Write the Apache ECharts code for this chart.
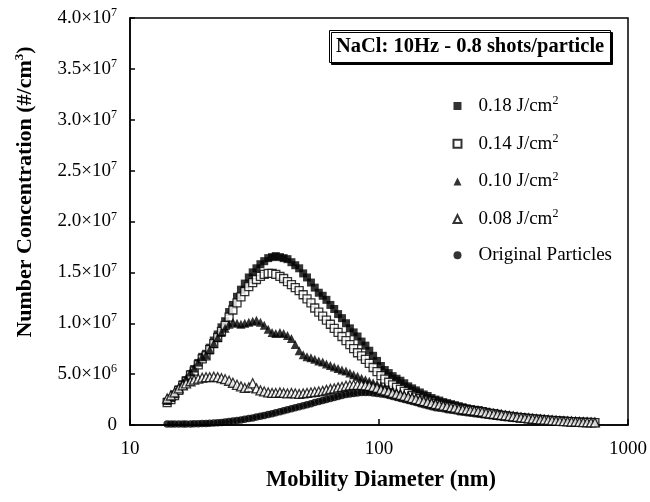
<!DOCTYPE html>
<html>
<head>
<meta charset="utf-8">
<script src="https://cdn.jsdelivr.net/npm/echarts@6/dist/echarts.min.js"></script>
<style>
  html, body { margin: 0; padding: 0; background: #fff; }
  #chart { width: 650px; height: 502px; }
</style>
</head>
<body>
<div id="chart"></div>
<script>
// SMPS channel mid-point diameters (nm), 64 channels per decade
const diameters = [
  14.1, 14.6, 15.1, 15.7, 16.3, 16.8, 17.5, 18.1, 18.8, 19.5,
  20.2, 20.9, 21.7, 22.5, 23.3, 24.1, 25.0, 25.9, 26.9, 27.9,
  28.9, 30.0, 31.1, 32.2, 33.4, 34.6, 35.9, 37.2, 38.5, 40.0,
  41.4, 42.9, 44.5, 46.1, 47.8, 49.6, 51.4, 53.3, 55.2, 57.3,
  59.4, 61.5, 63.8, 66.1, 68.5, 71.0, 73.7, 76.4, 79.1, 82.0,
  85.1, 88.2, 91.4, 94.7, 98.2, 101.8, 105.5, 109.4, 113.4, 117.6,
  121.9, 126.3, 131.0, 135.8, 140.7, 145.9, 151.2, 156.8, 162.5, 168.5,
  174.7, 181.1, 187.7, 194.6, 201.7, 209.1, 216.7, 224.7, 232.9, 241.4,
  250.3, 259.5, 269.0, 278.8, 289.0, 299.6, 310.6, 322.0, 333.8, 346.0,
  358.7, 371.8, 385.4, 399.5, 414.2, 429.4, 445.1, 461.4, 478.3, 495.8,
  514.0, 532.8, 552.3, 572.5, 593.5, 615.3, 637.8, 661.2, 685.4, 710.5,
  736.5
];

// Number concentrations, in units of 10^6 #/cm3
const conc018 = [
  2.3, 2.6, 3.0, 3.5, 4.0, 4.4, 5.0, 5.5, 6.1, 6.7,
  7.0, 7.6, 8.3, 8.9, 9.6, 10.2, 11.1, 11.8, 12.6, 13.3,
  13.9, 14.5, 15.0, 15.4, 15.8, 16.1, 16.4, 16.5, 16.6, 16.5,
  16.4, 16.3, 16.0, 15.7, 15.4, 14.9, 14.5, 14.0, 13.5, 13.0,
  12.7, 12.3, 11.8, 11.4, 10.9, 10.5, 10.0, 9.5, 9.1, 8.7,
  8.2, 7.8, 7.3, 6.8, 6.3, 5.8, 5.4, 5.1, 4.8, 4.55,
  4.35, 4.1, 3.8, 3.6, 3.4, 3.2, 3.0, 2.85, 2.65, 2.5,
  2.4, 2.25, 2.15, 2.05, 1.95, 1.85, 1.75, 1.65, 1.55, 1.5,
  1.45, 1.35, 1.3, 1.2, 1.15, 1.1, 1.0, 0.95, 0.9, 0.85,
  0.8, 0.75, 0.7, 0.66, 0.62, 0.58, 0.55, 0.52, 0.49, 0.46,
  0.43, 0.41, 0.39, 0.36, 0.34, 0.32, 0.3, 0.28, 0.26, 0.25,
  0.24
];
const conc014 = [
  2.2, 2.5, 2.9, 3.4, 3.9, 4.3, 4.9, 5.3, 5.9, 6.5,
  6.8, 7.4, 8.0, 8.6, 9.2, 9.8, 10.6, 11.3, 12.0, 12.6,
  13.1, 13.6, 14.0, 14.3, 14.6, 14.8, 14.9, 14.9, 14.8, 14.6,
  14.4, 14.1, 13.8, 13.5, 13.2, 12.8, 12.4, 12.0, 11.5, 11.1,
  10.7, 10.3, 9.9, 9.5, 9.1, 8.7, 8.3, 7.9, 7.5, 7.1,
  6.8, 6.45, 6.05, 5.65, 5.25, 4.85, 4.5, 4.2, 3.95, 3.7,
  3.5, 3.3, 3.1, 2.9, 2.75, 2.6, 2.45, 2.35, 2.25, 2.1,
  2.0, 1.9, 1.8, 1.75, 1.7, 1.6, 1.55, 1.5, 1.45, 1.4,
  1.35, 1.3, 1.2, 1.15, 1.1, 1.0, 0.95, 0.9, 0.85, 0.8,
  0.75, 0.72, 0.68, 0.64, 0.6, 0.57, 0.54, 0.5, 0.47, 0.44,
  0.42, 0.4, 0.37, 0.35, 0.33, 0.31, 0.29, 0.27, 0.26, 0.25,
  0.24
];
const conc010 = [
  2.4, 2.7, 3.1, 3.7, 4.2, 4.6, 5.2, 5.6, 6.2, 6.7,
  6.9, 7.4, 8.0, 8.6, 9.1, 9.5, 9.9, 10.1, 10.0, 9.9,
  10.0, 10.1, 10.2, 10.3, 10.1, 9.8, 9.4, 9.1, 9.0, 9.1,
  9.0, 8.8, 8.5, 7.9, 7.3, 6.9, 6.7, 6.6, 6.45, 6.3,
  6.2, 6.0, 5.85, 5.7, 5.55, 5.4, 5.3, 5.1, 4.95, 4.8,
  4.6, 4.45, 4.3, 4.15, 4.0, 3.85, 3.7, 3.55, 3.4, 3.25,
  3.15, 3.0, 2.9, 2.8, 2.7, 2.6, 2.5, 2.4, 2.3, 2.2,
  2.1, 2.0, 1.95, 1.85, 1.8, 1.7, 1.65, 1.55, 1.5, 1.45,
  1.4, 1.3, 1.25, 1.2, 1.1, 1.05, 1.0, 0.95, 0.9, 0.85,
  0.8, 0.75, 0.7, 0.66, 0.62, 0.58, 0.55, 0.52, 0.49, 0.46,
  0.43, 0.41, 0.38, 0.36, 0.34, 0.32, 0.3, 0.28, 0.27, 0.26,
  0.25
];
const conc008 = [
  2.6, 2.9, 3.2, 3.6, 3.9, 4.1, 4.3, 4.45, 4.55, 4.65,
  4.7, 4.7, 4.75, 4.7, 4.6, 4.5, 4.35, 4.15, 3.95, 3.8,
  3.65, 3.7, 4.1, 3.6, 3.4, 3.3, 3.2, 3.15, 3.15, 3.2,
  3.15, 3.1, 3.15, 3.1, 3.05, 3.1, 3.15, 3.2, 3.25, 3.3,
  3.35, 3.45, 3.55, 3.6, 3.7, 3.75, 3.85, 3.9, 3.95, 3.95,
  3.95, 3.9, 3.85, 3.75, 3.65, 3.5, 3.4, 3.3, 3.15, 3.05,
  2.95, 2.85, 2.75, 2.65, 2.55, 2.45, 2.35, 2.25, 2.15, 2.05,
  2.0, 1.9, 1.85, 1.75, 1.7, 1.6, 1.55, 1.5, 1.45, 1.4,
  1.35, 1.3, 1.2, 1.15, 1.1, 1.05, 1.0, 0.95, 0.9, 0.85,
  0.8, 0.75, 0.7, 0.66, 0.62, 0.58, 0.55, 0.52, 0.49, 0.46,
  0.43, 0.4, 0.38, 0.36, 0.34, 0.32, 0.3, 0.28, 0.27, 0.26,
  0.25
];
const concOriginal = [
  0.1, 0.1, 0.1, 0.1, 0.1, 0.1, 0.1, 0.12, 0.12, 0.14,
  0.15, 0.17, 0.2, 0.22, 0.25, 0.3, 0.35, 0.4, 0.45, 0.5,
  0.57, 0.63, 0.7, 0.78, 0.86, 0.94, 1.02, 1.1, 1.2, 1.3,
  1.4, 1.5, 1.6, 1.7, 1.8, 1.9, 2.0, 2.1, 2.2, 2.3,
  2.4, 2.5, 2.6, 2.7, 2.8, 2.9, 3.0, 3.05, 3.1, 3.15,
  3.2, 3.2, 3.2, 3.15, 3.1, 3.05, 3.0, 2.9, 2.8, 2.7,
  2.6, 2.5, 2.4, 2.3, 2.2, 2.1, 2.0, 1.9, 1.8, 1.7,
  1.65, 1.6, 1.5, 1.45, 1.4, 1.3, 1.25, 1.2, 1.15, 1.1,
  1.05, 1.0, 0.95, 0.9, 0.85, 0.8, 0.75, 0.72, 0.68, 0.64,
  0.6, 0.57, 0.54, 0.5, 0.47, 0.44, 0.42, 0.4, 0.37, 0.35,
  0.33, 0.31, 0.29, 0.27, 0.25, 0.24, 0.22, 0.21, 0.2, 0.19,
  0.18
];

const UNIT = 1e6;
const seriesNames = ['0.18 J/cm2', '0.14 J/cm2', '0.10 J/cm2', '0.08 J/cm2', 'Original Particles'];
const titleText = 'NaCl: 10Hz - 0.8 shots/particle';
const xTitle = 'Mobility Diameter (nm)';
const yTitle = 'Number Concentration (#/cm';

const FONT = '"Liberation Serif", "Times New Roman", serif';

function pairs(values) {
  return diameters.map((d, i) => [d, values[i] * UNIT]);
}

function yLabel(v) {
  if (v === 0) return '{b|0}';
  const e = Math.floor(Math.log10(v) + 1e-9);
  const m = (v / Math.pow(10, e)).toFixed(1);
  return '{b|' + m + '×10}{s|' + e + '}';
}

function legendLabel(name) {
  if (name.endsWith('cm2')) {
    return '{g| }{b|' + name.slice(0, -1) + '}{s|2}';
  }
  return '{g| }{b|' + name + '}';
}

const supRich = {
  b: { fontFamily: FONT, fontSize: 19, color: '#000', lineHeight: 22 },
  s: { fontFamily: FONT, fontSize: 12, color: '#000', lineHeight: 12, verticalAlign: 'top' },
  g: { width: 12, lineHeight: 22 }
};

const hollow = { color: '#fff', borderColor: '#000', borderWidth: 1.3 };
const solid = { color: '#000' };

const chart = echarts.init(document.getElementById('chart'), null, { renderer: 'canvas' });

chart.setOption({
  animation: false,
  backgroundColor: '#fff',
  title: {
    text: titleText,
    left: 329,
    top: 30,
    padding: [5, 7, 5, 7],
    backgroundColor: '#fff',
    borderColor: '#000',
    borderWidth: 1,
    shadowColor: '#000',
    shadowOffsetX: 2,
    shadowOffsetY: 2,
    shadowBlur: 0,
    textStyle: { fontFamily: FONT, fontWeight: 'bold', fontSize: 20.5, color: '#000', lineHeight: 23 }
  },
  grid: {
    left: 130, right: 21, top: 18, bottom: 77,
    show: true, borderColor: '#000', borderWidth: 1.5, backgroundColor: 'transparent'
  },
  legend: {
    orient: 'vertical',
    left: 452.5,
    top: 95,
    padding: 0,
    itemWidth: 8,
    itemHeight: 8,
    itemGap: 17.2,
    data: seriesNames,
    formatter: legendLabel,
    textStyle: { rich: supRich },
    selectedMode: false
  },
  xAxis: {
    type: 'log',
    logBase: 10,
    min: 10,
    max: 1000,
    axisLine: { lineStyle: { color: '#000', width: 1.5 } },
    axisTick: { inside: true, length: 6, lineStyle: { color: '#000', width: 1.5 } },
    minorTick: { show: false },
    splitLine: { show: false },
    axisLabel: { fontFamily: FONT, fontSize: 19, color: '#000', margin: 15, formatter: v => String(Math.round(v)) }
  },
  yAxis: {
    type: 'value',
    min: 0,
    max: 4e7,
    interval: 5e6,
    axisLine: { show: true, lineStyle: { color: '#000', width: 1.5 } },
    axisTick: { show: true, inside: true, length: 5, lineStyle: { color: '#000', width: 1.5 } },
    splitLine: { show: false },
    axisLabel: { margin: 13, formatter: yLabel, rich: supRich }
  },
  graphic: [
    {
      type: 'text',
      x: 381,
      y: 480,
      style: {
        text: xTitle, fontFamily: FONT, fontWeight: 'bold', fontSize: 22.5, fill: '#000',
        align: 'center', verticalAlign: 'middle'
      }
    },
    {
      type: 'text',
      x: 25,
      y: 192,
      rotation: Math.PI / 2,
      style: {
        text: '{t|' + yTitle + '}{s|3}{t|)}',
        align: 'center',
        verticalAlign: 'middle',
        rich: {
          t: { fontFamily: FONT, fontWeight: 'bold', fontSize: 22, fill: '#000', lineHeight: 24 },
          s: { fontFamily: FONT, fontWeight: 'bold', fontSize: 13, fill: '#000', lineHeight: 13, verticalAlign: 'top' }
        }
      }
    }
  ],
  series: [
    {
      name: seriesNames[4], type: 'scatter', symbol: 'circle', symbolSize: 7.5,
      itemStyle: solid, data: pairs(concOriginal), z: 2
    },
    {
      name: seriesNames[0], type: 'scatter', symbol: 'rect', symbolSize: 8,
      itemStyle: solid, data: pairs(conc018), z: 3
    },
    {
      name: seriesNames[1], type: 'scatter', symbol: 'rect', symbolSize: 8,
      itemStyle: hollow, data: pairs(conc014), z: 4
    },
    {
      name: seriesNames[2], type: 'scatter', symbol: 'triangle', symbolSize: 9,
      itemStyle: solid, data: pairs(conc010), z: 5
    },
    {
      name: seriesNames[3], type: 'scatter', symbol: 'triangle', symbolSize: 9,
      itemStyle: hollow, data: pairs(conc008), z: 6
    }
  ]
});
</script>
</body>
</html>
